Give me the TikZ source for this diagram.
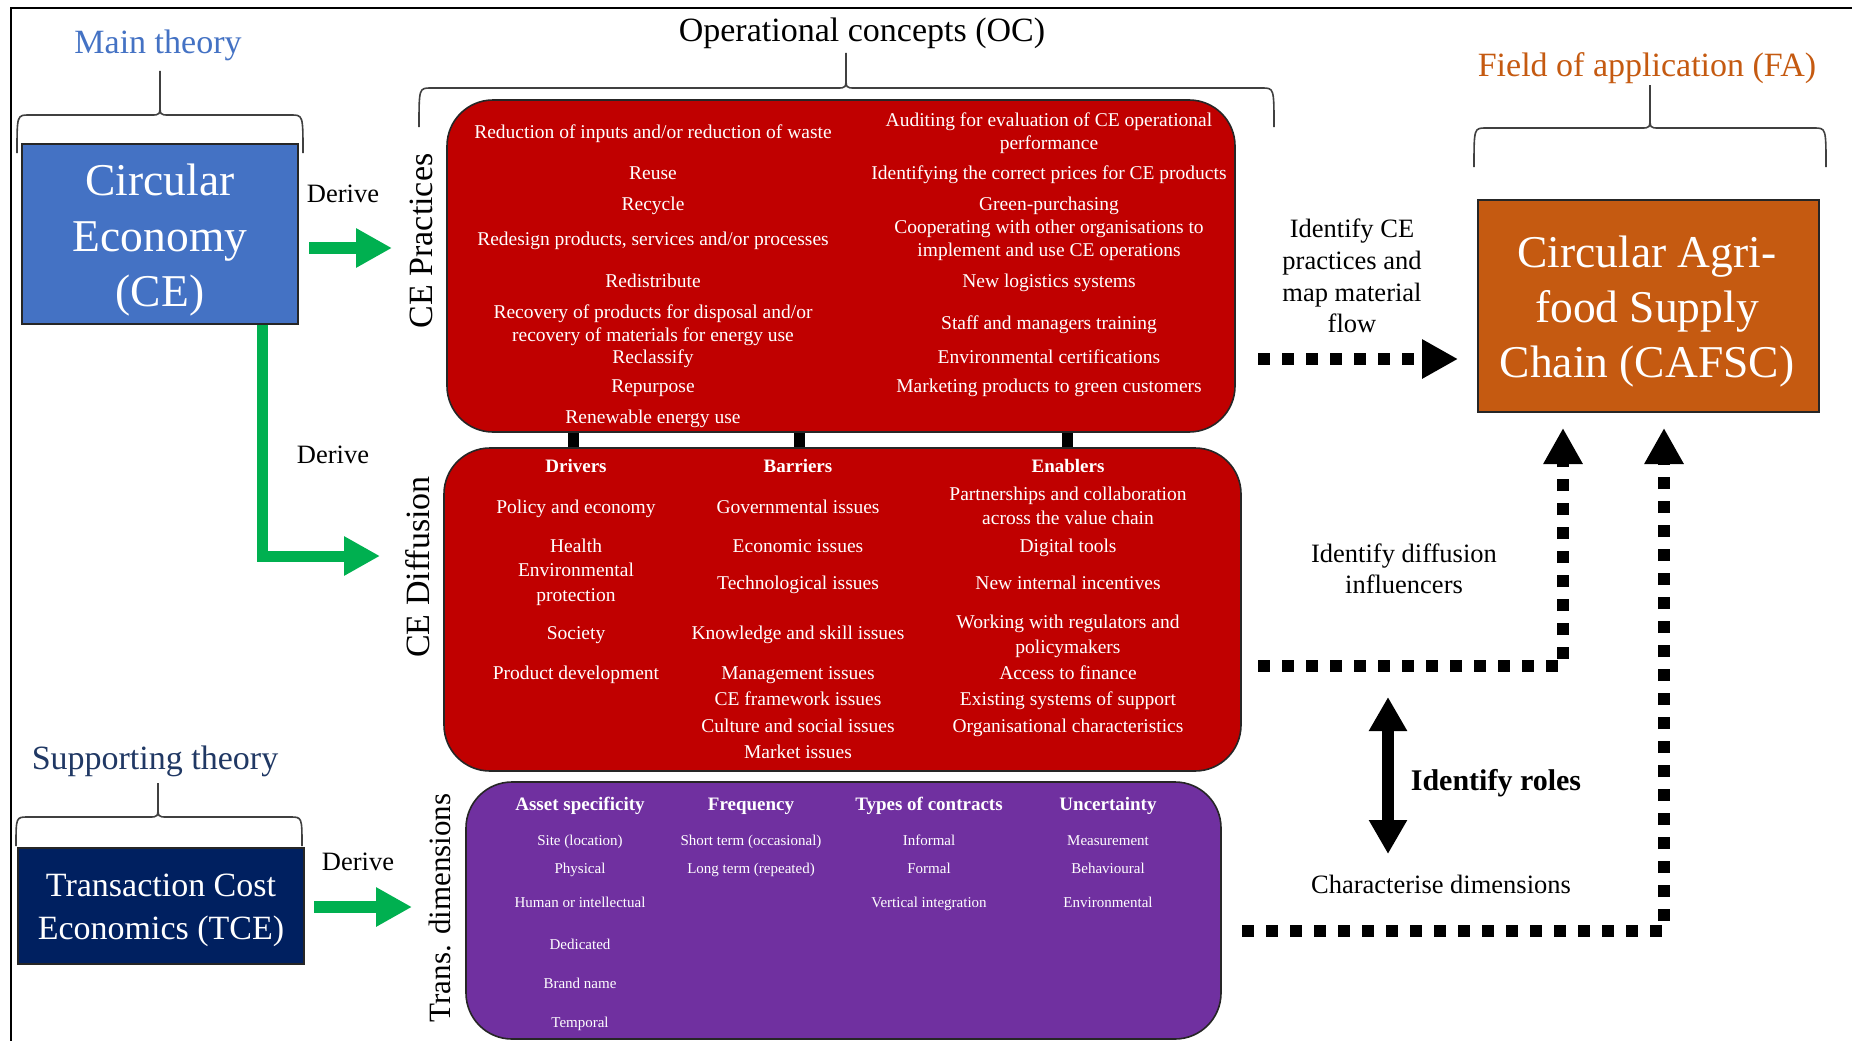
\documentclass[tikz,border=0pt]{standalone}
\usepackage{fontspec}
\setmainfont{Liberation Serif}
\usetikzlibrary{arrows.meta}
\definecolor{ceblue}{HTML}{4472C4}
\definecolor{cered}{HTML}{C00000}
\definecolor{tcepurple}{HTML}{7030A0}
\definecolor{tcenavy}{HTML}{002060}
\definecolor{faorange}{HTML}{C55A11}
\definecolor{arrgreen}{HTML}{00B050}
\definecolor{supnavy}{HTML}{203864}
\newcommand\tdbrace[6]{%
  \draw[bracestyle] (#1,#4) .. controls (#1,#5) .. (#1+12,#5) -- (#3-9,#5)
    .. controls (#3,#5) .. (#3,#5-12) -- (#3,#6);
  \draw[bracestyle] (#3,#5-12) .. controls (#3,#5) .. (#3+9,#5) -- (#2-12,#5)
    .. controls (#2,#5) .. (#2,#4);}
\begin{document}
\begin{tikzpicture}[x=1pt,y=-1pt,
  bracestyle/.style={line width=1.6pt, draw=black!75},
  box/.style={draw=black!85, line width=1.6pt, inner sep=0pt},
  rbox/.style={box, rounded corners=46pt},
  itm/.style={text=white, font=\fontsize{19.5}{23}\selectfont, inner sep=0pt, text height=13.3pt, text depth=0pt},
  hdr/.style={text=white, font=\fontsize{19}{23}\selectfont\bfseries, inner sep=0pt, text height=13pt, text depth=0pt},
  sml/.style={text=white, font=\fontsize{15}{18}\selectfont, inner sep=0pt, text height=10.2pt, text depth=0pt},
  mid/.style={font=\fontsize{26.5}{32}\selectfont, inner sep=0pt, text height=18pt, text depth=0pt},
  ttl/.style={font=\fontsize{34}{40}\selectfont, inner sep=0pt, text height=23pt, text depth=0pt},
  huge/.style={text=white, font=\fontsize{45.5}{55}\selectfont, inner sep=0pt, text height=30.6pt, text depth=0pt},
  tce/.style={text=white, font=\fontsize{34}{43}\selectfont, inner sep=0pt, text height=23pt, text depth=0pt},
  garrow/.style={draw=arrgreen, line width=12pt, -{Triangle[length=36pt,width=37pt]}},
  darrow/.style={draw=black, line width=12pt, dash pattern=on 12pt off 12pt, -{Triangle[length=36pt,width=37pt]}},
  bar/.style={draw=black, line width=11pt}
]
\useasboundingbox (0,0) rectangle (1852,1041);
\fill[white] (0,0) rectangle (1852,1041);
% frame
\draw[line width=2.2pt] (11,1041) -- (11,8) -- (1852,8);

% braces
\tdbrace{17}{303}{160}{153}{115}{71}
\tdbrace{16}{302}{158}{846}{817}{783}
\tdbrace{419}{1274}{846}{127}{88}{53}
\tdbrace{1474}{1826}{1650}{167}{128}{85}

% headings
\node[ttl, text=ceblue] (mainth) at (158,42) {Main theory};
\node[ttl] (octitle) at (862,30) {Operational concepts (OC)};
\node[ttl, text=faorange] (fatitle) at (1647,65) {Field of application (FA)};
\node[ttl, text=supnavy] (supth) at (155,758) {Supporting theory};

% theory boxes
\node[box, fill=ceblue, minimum width=276pt, minimum height=180pt] (ce) at (160,234) {};
\node[huge] (ce1) at (160,180.5) {Circular};
\node[huge] (ce2) at (160,236) {Economy};
\node[huge] (ce3) at (160,291.5) {(CE)};

\node[box, fill=tcenavy, minimum width=286pt, minimum height=116pt] (tce) at (161,906) {};
\node[tce] (tce1) at (161,885) {Transaction Cost};
\node[tce] (tce2) at (161,928) {Economics (TCE)};

\node[box, fill=faorange, minimum width=341pt, minimum height=212pt] (cafsc) at (1648.5,306) {};
\node[huge] (ca1) at (1647,252) {Circular Agri-};
\node[huge] (ca2) at (1647,307) {food Supply};
\node[huge] (ca3) at (1647,362) {Chain (CAFSC)};

% OC boxes
\node[rbox, fill=cered, minimum width=788pt, minimum height=332pt] (prac) at (841,266) {};
\node[rbox, fill=cered, minimum width=797pt, minimum height=323pt] (diff) at (842.5,609.5) {};
\node[rbox, fill=tcepurple, minimum width=755pt, minimum height=257pt] (trans) at (843.5,910.5) {};

% side labels
\node[ttl, rotate=90] (pracl) at (421,241) {CE Practices};
\node[ttl, rotate=90] (diffl) at (418,567) {CE Diffusion};
\node[ttl, rotate=90, font=\fontsize{31}{36}\selectfont, text height=21pt] (transl) at (440,908) {Trans. dimensions};

% practices text
\node[itm] at (653,132) {Reduction of inputs and/or reduction of waste};
\node[itm] at (653,173) {Reuse};
\node[itm] at (653,204) {Recycle};
\node[itm] at (653,239) {Redesign products, services and/or processes};
\node[itm] at (653,281) {Redistribute};
\node[itm] at (653,312) {Recovery of products for disposal and/or};
\node[itm] at (653,335) {recovery of materials for energy use};
\node[itm] at (653,357) {Reclassify};
\node[itm] at (653,386) {Repurpose};
\node[itm] at (653,417) {Renewable energy use};
\node[itm] at (1049,120) {Auditing for evaluation of CE operational};
\node[itm] at (1049,143) {performance};
\node[itm] at (1049,173) {Identifying the correct prices for CE products};
\node[itm] at (1049,204) {Green-purchasing};
\node[itm] at (1049,227) {Cooperating with other organisations to};
\node[itm] at (1049,250) {implement and use CE operations};
\node[itm] at (1049,281) {New logistics systems};
\node[itm] at (1049,323) {Staff and managers training};
\node[itm] at (1049,357) {Environmental certifications};
\node[itm] at (1049,386) {Marketing products to green customers};

% diffusion text
\node[hdr] at (576,466) {Drivers};
\node[hdr] at (798,466) {Barriers};
\node[hdr] at (1068,466) {Enablers};
\node[itm] at (576,507) {Policy and economy};
\node[itm] at (576,546) {Health};
\node[itm] at (576,570) {Environmental};
\node[itm] at (576,595) {protection};
\node[itm] at (576,633) {Society};
\node[itm] at (576,673) {Product development};
\node[itm] at (798,507) {Governmental issues};
\node[itm] at (798,546) {Economic issues};
\node[itm] at (798,583) {Technological issues};
\node[itm] at (798,633) {Knowledge and skill issues};
\node[itm] at (798,673) {Management issues};
\node[itm] at (798,699) {CE framework issues};
\node[itm] at (798,726) {Culture and social issues};
\node[itm] at (798,752) {Market issues};
\node[itm] at (1068,494) {Partnerships and collaboration};
\node[itm] at (1068,518) {across the value chain};
\node[itm] at (1068,546) {Digital tools};
\node[itm] at (1068,583) {New internal incentives};
\node[itm] at (1068,622) {Working with regulators and};
\node[itm] at (1068,647) {policymakers};
\node[itm] at (1068,673) {Access to finance};
\node[itm] at (1068,699) {Existing systems of support};
\node[itm] at (1068,726) {Organisational characteristics};

% transaction text
\node[hdr] at (580,804) {Asset specificity};
\node[hdr] at (751,804) {Frequency};
\node[hdr] at (929,804) {Types of contracts};
\node[hdr] at (1108,804) {Uncertainty};
\node[sml] at (580,840) {Site (location)};
\node[sml] at (580,868) {Physical};
\node[sml] at (580,902) {Human or intellectual};
\node[sml] at (580,944) {Dedicated};
\node[sml] at (580,983) {Brand name};
\node[sml] at (580,1022) {Temporal};
\node[sml] at (751,840) {Short term (occasional)};
\node[sml] at (751,868) {Long term (repeated)};
\node[sml] at (929,840) {Informal};
\node[sml] at (929,868) {Formal};
\node[sml] at (929,902) {Vertical integration};
\node[sml] at (1108,840) {Measurement};
\node[sml] at (1108,868) {Behavioural};
\node[sml] at (1108,902) {Environmental};

% bars between practices and diffusion
\coordinate (bx1) at (573,0);
\coordinate (bx2) at (799,0);
\coordinate (bx3) at (1067,0);
\draw[bar] (prac.south -| bx1) -- (diff.north -| bx1);
\draw[bar] (prac.south -| bx2) -- (diff.north -| bx2);
\draw[bar] (prac.south -| bx3) -- (diff.north -| bx3);

% derive labels and green arrows
\node[mid] (d1) at (343,193) {Derive};
\node[mid] (d2) at (333,454) {Derive};
\node[mid] (d3) at (358,861) {Derive};
\coordinate (g1s) at (309,248);
\coordinate (g1e) at (392,248);
\draw[garrow] (g1s) -- (g1e);
\coordinate (g2c) at (262,0);
\coordinate (g2e) at (380,556);
\draw[garrow, line width=11pt, line join=miter] (ce.south -| g2c) |- (g2e);
\coordinate (g3s) at (314,907);
\coordinate (g3e) at (412,907);
\draw[garrow] (g3s) -- (g3e);

% right-hand labels
\node[mid] at (1352,228) {Identify CE};
\node[mid] at (1352,260) {practices and};
\node[mid] at (1352,292) {map material};
\node[mid] at (1352,323) {flow};
\node[mid] at (1404,553) {Identify diffusion};
\node[mid] at (1404,584) {influencers};
\node[mid, font=\fontsize{30}{36}\selectfont\bfseries, text height=20pt] (roles) at (1496,780) {Identify roles};
\node[mid] (chardim) at (1441,884) {Characterise dimensions};

% dotted arrows
\coordinate (o1s) at (1258,359);
\coordinate (o1e) at (1458,359);
\draw[darrow] (o1s) -- (o1e);
\coordinate (o2s) at (1258,666);
\coordinate (o2e) at (1563,428);
\draw[darrow] (o2s) -| (o2e);
\coordinate (o3s) at (1242,931);
\coordinate (o3e) at (1664,428);
\draw[darrow] (o3s) -| (o3e);
\coordinate (r1) at (1388,697);
\coordinate (r2) at (1388,854);
\draw[line width=12pt, {Triangle[length=34pt,width=36pt]}-{Triangle[length=34pt,width=36pt]}] (r1) -- (r2);
\end{tikzpicture}
\end{document}
